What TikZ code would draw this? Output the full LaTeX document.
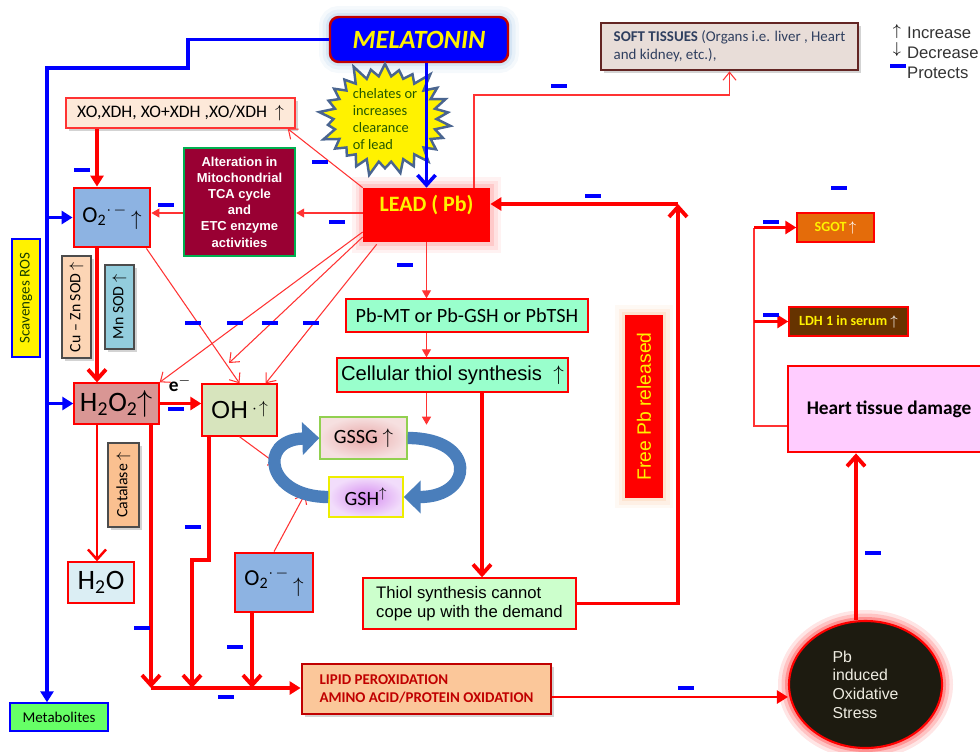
\documentclass[tikz,border=0pt]{standalone}
\usepackage{fontspec}
\setmainfont{Carlito}
\newfontfamily\arialf{Liberation Sans}
\usetikzlibrary{arrows.meta,positioning,calc,shapes.geometric,shapes.symbols,shadows}

\definecolor{melrim}{HTML}{C00000}
\definecolor{melglow}{HTML}{9DC3E6}
\definecolor{starrim}{HTML}{4A6590}
\definecolor{stargreen}{HTML}{245800}
\definecolor{leadglow}{HTML}{FF8080}
\definecolor{xofill}{HTML}{FDE9D9}
\definecolor{o2fill}{HTML}{8DB3E2}
\definecolor{altfill}{HTML}{990033}
\definecolor{altrim}{HTML}{00B050}
\definecolor{h2o2fill}{HTML}{D99694}
\definecolor{ohfill}{HTML}{D7E4BD}
\definecolor{h2ofill}{HTML}{DBEEF4}
\definecolor{cuzn}{HTML}{FCD5B5}
\definecolor{mnsod}{HTML}{93CDDD}
\definecolor{catfill}{HTML}{FAC090}
\definecolor{metafill}{HTML}{66FF66}
\definecolor{aqua}{HTML}{99FFCC}
\definecolor{thiolfill}{HTML}{CCFFCC}
\definecolor{gssgin}{HTML}{E8A8A8}
\definecolor{gssgout}{HTML}{F6E0E0}
\definecolor{gssgrim}{HTML}{92D050}
\definecolor{gshin}{HTML}{D58BF0}
\definecolor{gshout}{HTML}{F2DDFB}
\definecolor{gshrim}{HTML}{EEEE00}
\definecolor{lipidfill}{HTML}{FBC79A}
\definecolor{lipidrim}{HTML}{C00000}
\definecolor{softfill}{HTML}{E8DDD8}
\definecolor{softrim}{HTML}{632523}
\definecolor{softtext}{HTML}{2F3F5F}
\definecolor{sgotfill}{HTML}{E46C0A}
\definecolor{ldhfill}{HTML}{663300}
\definecolor{heartfill}{HTML}{FFCCFF}
\definecolor{ellfill}{HTML}{1D1B10}
\definecolor{elltext}{HTML}{EEECE1}
\definecolor{freeglow}{HTML}{FAC090}
\definecolor{cyclefill}{HTML}{4A7EBB}

\newcommand\fsz[2]{\fontsize{#1}{#2}\selectfont}

\tikzset{
  vbarb/.style={-{Straight Barb[length=2mm,width=3.6mm]}},
  vtri/.style={-{Triangle[length=2.2mm,width=2.6mm]}},
  sbarb/.style={-{Straight Barb[length=1.6mm,width=2.6mm]}},
  stri/.style={-{Triangle[length=1.6mm,width=1.8mm]}},
  wh/.style 2 args={/utils/exec={\pgfmathsetlengthmacro\boxw{#1*0.2mm}\pgfmathsetlengthmacro\boxh{#2*0.2mm}},
    minimum width=\boxw, minimum height=\boxh},
  box/.style={draw=red, line width=0.8pt, inner sep=1pt, align=center},
  shad/.style={drop shadow={opacity=0.35, shadow xshift=1.6pt, shadow yshift=-1.6pt}},
  glow/.style={preaction={draw=#1, opacity=0.10, line width=4.4mm},
               preaction={draw=#1, opacity=0.15, line width=3mm},
               preaction={draw=#1, opacity=0.25, line width=1.6mm}},
  prot/.style={fill=blue, inner sep=0pt, minimum width=3.2mm, minimum height=0.8mm},
  thk/.style={draw=red, line width=2.2pt},
  med/.style={draw=red, line width=1.4pt},
  thn/.style={draw=red!80, line width=0.6pt},
  bluept/.style={draw=blue, line width=2pt},
  gcycle/.style={draw=cyclefill, line width=7pt, -{Triangle[length=3.4mm,width=6.4mm]}},
}

\begin{document}
\begin{tikzpicture}[x=0.2mm, y=-0.2mm, every node/.style={font=\fsz{9}{11}}]
  \useasboundingbox (0,0) rectangle (980,751);

  % melatonin and lead
  \node[box, wh={178}{45}, fill=blue, draw=melrim, line width=1.4pt, rounded corners=5pt,
        glow=melglow, text=yellow, font=\fsz{15}{18}\bfseries\itshape] (mel) at (419,39.5) {MELATONIN};
  \node[starburst, starburst points=26, starburst point height=0.34cm, wh={137}{110},
        fill=yellow, draw=starrim, line width=1.4pt, inner sep=0pt, align=left,
        text=stargreen, font=\fsz{8.2}{9.6}] (burst) at (385,119) {chelates or\\increases\\clearance\\of lead};
  \node[wh={127}{54}, fill=red, glow=leadglow, inner sep=0pt] (lead) at (426.5,215) {};
  \node[inner sep=0pt, below=1.5mm of lead.north, text=yellow, font=\fsz{12.5}{15}\bfseries] (leadtxt) {LEAD ( Pb)};

  % left side: radicals and enzymes
  \node[box, wh={229}{30}, fill=xofill, draw=red!80, shad, font=\fsz{10}{12}] (xo) at (180.5,113) {XO,XDH, XO+XDH ,XO/XDH \ $\uparrow$};
  \node[box, wh={76}{59}, fill=o2fill, line width=1.6pt, font=\fsz{13}{15}] (o2a) at (112,217.5) {O\textsubscript{2}$^{\cdot\,-}$\,\raisebox{-2pt}{$\uparrow$}};
  \node[box, wh={111}{108}, fill=altfill, draw=altrim, line width=1.4pt, text=white,
        font=\arialf\bfseries\fsz{7.4}{9.2}] (alt) at (239.5,202) {Alteration in\\Mitochondrial\\TCA cycle\\and\\ETC enzyme\\activities};
  \node[box, rotate=90, wh={118}{28}, fill=yellow, draw=blue, text=stargreen!70!black, font=\fsz{8.5}{9}] (scav) at (26,298) {Scavenges ROS};
  \node[box, rotate=90, wh={102}{29}, fill=cuzn, draw=black!70, shad, font=\fsz{9}{10}] (cuzn) at (76.5,307) {Cu -- Zn SOD $\uparrow$};
  \node[box, rotate=90, wh={84}{29}, fill=mnsod, draw=black!70, shad, font=\fsz{9}{10}] (mnsod) at (119.5,307) {Mn SOD $\uparrow$};
  \node[box, rotate=90, wh={84}{31}, fill=catfill, draw=black!70, shad, font=\fsz{9}{10}] (cat) at (123.5,485) {Catalase $\uparrow$};
  \node[box, wh={85}{41}, fill=h2o2fill, font=\fsz{16}{18}] (h2o2) at (116.5,403.5) {H\textsubscript{2}O\textsubscript{2}$\uparrow$};
  \node[box, wh={75}{52}, fill=ohfill, font=\arialf\fsz{14}{16}] (oh) at (239.5,410) {OH\,\raisebox{3pt}{\fsz{10}{10}$\cdot\!\uparrow$}};
  \node[box, wh={66}{41}, fill=h2ofill, font=\fsz{16}{18}] (h2o) at (101,582.5) {H\textsubscript{2}O};
  \node[box, wh={98}{28}, fill=metafill, draw=blue, font=\fsz{8.5}{10}] (meta) at (59,717) {Metabolites};
  \node[box, wh={78}{59}, fill=o2fill, line width=1.6pt, font=\fsz{13}{15}] (o2b) at (274,582.5) {O\textsubscript{2}$^{\cdot\,-}$\,\raisebox{-4pt}{$\uparrow$}};
  \node[font=\bfseries\fsz{11}{12}] (elab) at (180,384) {e$^{-}$};

  % thiols
  \node[box, wh={87}{42}, inner color=gssgin, outer color=gssgout, draw=gssgrim, font=\fsz{11.5}{13}] (gssg) at (363.5,438) {GSSG $\uparrow$};
  \node[box, wh={74}{40}, inner color=gshin, outer color=gshout, draw=gshrim, font=\fsz{11.5}{13}] (gsh) at (366,497) {GSH$^{\uparrow}$};
  \node[box, wh={242}{33}, fill=aqua, font=\fsz{11.5}{13}] (pbmt) at (467,315.5) {Pb-MT or Pb-GSH or PbTSH};
  \node[box, wh={231}{34}, fill=aqua, font=\arialf\fsz{11.5}{13}] (cell) at (452.5,375) {Cellular thiol synthesis \ $\uparrow$};
  \node[box, wh={213}{51}, fill=thiolfill, align=left, font=\arialf\fsz{9.5}{10.8}] (thiol) at (469.5,603.5) {Thiol synthesis cannot\\cope up with the demand};
  \node[box, wh={249}{50}, fill=lipidfill, draw=lipidrim, line width=1.6pt, shad, align=left,
        text=lipidrim, font=\bfseries\fsz{8.5}{10.4}] (lipid) at (426.5,689) {LIPID PEROXIDATION\\AMINO ACID/PROTEIN OXIDATION};

  % right side
  \node[box, wh={257}{47}, fill=softfill, draw=softrim, line width=1.6pt, shad, align=left,
        text=softtext, font=\fsz{8.5}{10}] (soft) at (729.5,46.5) {\textbf{SOFT TISSUES} (Organs i.e. liver , Heart\\and kidney, etc.),};
  \node[box, rotate=90, wh={181}{36}, fill=red, glow=freeglow, text=yellow, font=\arialf\fsz{11}{13}] (free) at (644,406.5) {Free Pb released};
  \node[box, wh={77}{29}, fill=sgotfill, text=yellow, font=\bfseries\fsz{8}{9}] (sgot) at (835.5,227.5) {SGOT\,{\color{white}$\uparrow$}};
  \node[box, wh={119}{29}, fill=ldhfill, text=yellow, font=\bfseries\fsz{8}{9}] (ldh) at (848.5,321.5) {LDH 1 in serum {\color{white}$\uparrow$}};
  \node[box, wh={202}{86}, fill=heartfill, line width=1.6pt, font=\bfseries\fsz{11}{13}] (heart) at (889,409) {Heart tissue damage};
  \node[ellipse, wh={153}{127}, fill=ellfill, draw=red, line width=1.2pt, glow=red, align=left,
        text=elltext, font=\arialf\fsz{9}{10.6}] (ell) at (865.5,684.5) {Pb\\induced\\Oxidative\\Stress};

  % legend
  \node[inner sep=1pt, anchor=north west, align=left, text=black!80, font=\arialf\fsz{9.5}{11.3}] (legend) at (905,25) {Increase\\Decrease\\Protects};
  \node (lgup) at (897,32) {$\uparrow$};
  \node (lgdn) at (897,50) {$\downarrow$};

  % melatonin connectors
  \coordinate (spine) at (47,68);
  \draw[bluept, vtri] (mel.west) -| (188,68) -- (spine) -- (spine |- meta.north);
  \draw[bluept, vtri] (spine |- o2a.west) -- (o2a.west);
  \draw[bluept, vtri] (spine |- h2o2.west) -- (h2o2.west);
  \draw[bluept, vbarb] (mel.south -| lead.north) -- (lead.north);

  % superoxide to water
  \coordinate (c1) at (97,0);
  \draw[thk, vtri] (xo.south -| c1) -- (o2a.north -| c1);
  \draw[thk, vbarb] (o2a.south -| c1) -- (h2o2.north -| c1);
  \draw[med, vbarb] (h2o2.south -| c1) -- (h2o.north -| c1);
  \draw[thk, vtri] (h2o2.east) -- (oh.west |- h2o2.east);

  % lead actions
  \coordinate (r1) at (0,213);
  \draw[thn, stri] (lead.west |- r1) -- (alt.east |- r1);
  \draw[thn, stri] (alt.west |- r1) -- (o2a.east |- r1);
  \draw[thn, sbarb] (lead.north west) -- ($(xo.south east)+(-8,0)$);
  \coordinate (ohhit) at (229,363);
  \draw[thn, sbarb] ($(lead.west)+(0,17)$) -- (h2o2.north east);
  \draw[thn, sbarb] ($(lead.west)+(0,22)$) -- (ohhit);
  \draw[thn, sbarb] ($(lead.south west)+(14,2)$) -- ($(oh.north east)+(-12,0)$);
  \draw[thn, sbarb] ($(o2a.south east)+(-5,0)$) -- (oh.north);
  \coordinate (loopL) at (278,465);
  \coordinate (loopG) at (305,494);
  \draw[thn, sbarb] (oh.south) -- (loopL);
  \draw[thn, sbarb] (o2b.north) -- (loopG);

  % glutathione cycle
  \draw[gcycle] (gsh.west) .. controls +(-62,0) and +(-62,2) .. (gssg.west);
  \draw[gcycle] (gssg.east) .. controls +(70,0) and +(70,0) .. (gsh.east);

  % lead to thiols
  \draw[thn, stri] (lead.south) -- (pbmt.north -| lead.south);
  \draw[thn, stri] (pbmt.south -| lead.south) -- (cell.north -| lead.south);
  \draw[thn, stri] (cell.south -| lead.south) -- ++(0,32);
  \coordinate (c2) at (482,0);
  \draw[thk, vbarb] (cell.south -| c2) -- (thiol.north -| c2);
  \coordinate (c3) at (678,204);
  \draw[thk, vbarb] (thiol.east) -| (c3);
  \draw[thk, vtri] (c3) -- (lead.east |- c3);
  \coordinate (c4) at (474,95);
  \draw[thn, sbarb] (lead.north -| c4) -- (c4) -| (soft.south);

  % heart markers
  \coordinate (c5) at (754,228);
  \coordinate (r4) at (0,426);
  \draw[thn] (heart.west |- r4) -| (c5);
  \draw[thk, vtri] (c5 |- sgot.west) -- (sgot.west);
  \draw[thk, vtri] (c5 |- ldh.west) -- (ldh.west);
  \coordinate (c6) at (856,0);
  \draw[thk, vbarb] (ell.north -| c6) -- (heart.south -| c6);
  \coordinate (r2) at (0,697);
  \draw[med, vtri] (lipid.east |- r2) -- (ell.west |- r2);

  % damage collector
  \coordinate (r3) at (0,688);
  \coordinate (c7) at (151,0);
  \coordinate (c8) at (209,560);
  \coordinate (c9) at (192,0);
  \coordinate (c10) at (252,0);
  \draw[thk, vbarb] (h2o2.south -| c7) -- (c7 |- r3);
  \draw[thk, vbarb] (oh.south -| c8) -- (c8) -| (c9 |- r3);
  \draw[thk, vbarb] (o2b.south -| c10) -- (c10 |- r3);
  \draw[thk, vtri] (c7 |- r3) -- (lipid.west |- r3);

  % protection marks
  \foreach \x/\y [count=\i] in {82/170, 166/205, 337/222, 320/162, 405/265, 193/323, 235/323,
      270/323, 311/323, 176/409, 559/86, 593/196, 839/188, 771/222, 771/315, 873/553,
      686/688, 142/628, 193/527, 235/647, 226/697, 898/66}
    \node[prot] (m\i) at (\x,\y) {};
\end{tikzpicture}
\end{document}
